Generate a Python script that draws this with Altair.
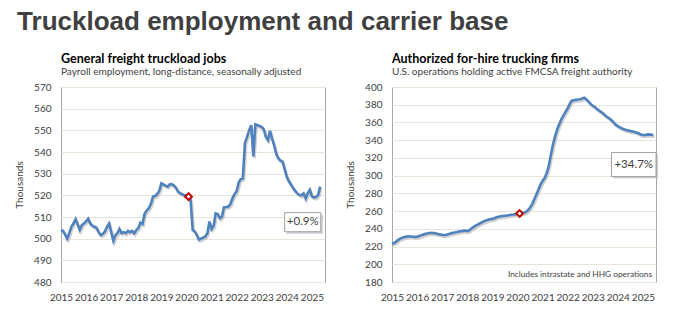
import altair as alt
import pandas as pd

# ---------------- data ----------------
start_month = "2015-01-01"

# General freight truckload jobs (thousands), monthly from Jan 2015
jobs = [
    504.0, 503.5, 502.0, 500.0, 502.5, 505.5, 507.0, 509.0, 506.5, 504.0, 506.3, 507.0,
    508.0, 509.2, 507.0, 506.0, 505.5, 505.0, 503.0, 501.7, 502.2, 503.3, 505.5, 507.0,
    503.0, 499.0, 501.5, 502.5, 504.5, 502.5, 503.0, 502.5, 503.6, 503.0, 503.6, 502.5,
    504.0, 505.0, 507.4, 506.8, 511.4, 513.0, 514.0, 516.0, 519.4, 519.7, 520.6, 522.0,
    525.5, 525.0, 524.5, 524.0, 525.0, 525.2, 524.5, 523.5, 521.7, 521.0, 520.5, 520.0,
    519.8, 519.4, 517.9, 504.0, 503.3, 501.7, 499.5, 500.0, 500.5, 501.0, 502.5, 507.9,
    504.5, 506.0, 511.7, 511.4, 509.4, 510.2, 514.5, 514.6, 514.8, 516.0, 518.6, 520.6,
    522.0, 526.0, 527.5, 527.8, 544.0, 547.0, 550.0, 552.4, 538.0, 552.8, 552.4, 552.0,
    551.5, 550.4, 547.0, 545.5, 549.8, 546.2, 543.0, 539.0, 537.0, 536.0, 535.5, 532.0,
    528.5, 526.5, 525.0, 523.5, 522.0, 521.0, 520.2, 520.0, 520.9, 518.5, 521.0, 522.5,
    519.4, 519.0, 519.2, 520.2, 524.0,
]

# Authorized for-hire trucking firms (thousands), monthly from Jan 2015
firms = [
    223.0, 224.0, 225.5, 227.5, 229.0, 230.0, 230.7, 231.2, 231.6, 231.3, 231.0, 230.9,
    231.0, 231.8, 232.6, 233.5, 234.3, 234.8, 235.2, 235.4, 235.2, 234.7, 234.2, 233.7,
    233.2, 232.8, 233.2, 234.0, 234.8, 235.4, 235.8, 236.3, 236.9, 237.3, 237.7, 238.0,
    237.4, 238.5, 240.3, 242.0, 243.5, 244.8, 246.0, 247.3, 248.6, 249.5, 250.2, 250.7,
    251.2, 252.0, 253.0, 253.5, 254.1, 254.4, 254.7, 255.0, 255.4, 255.8, 256.1, 256.6,
    257.0, 257.3, 257.6, 258.0, 259.0, 261.0, 263.7, 267.5, 273.0, 278.5, 284.0, 290.0,
    294.0, 297.5, 302.5, 311.0, 323.0, 335.0, 344.0, 352.0, 358.0, 363.5, 368.0, 372.0,
    376.0, 381.0, 384.5, 385.0, 385.5, 385.8, 386.2, 387.0, 388.0, 386.0, 383.5, 381.0,
    378.8, 377.5, 375.5, 373.5, 372.0, 370.0, 368.0, 366.0, 364.5, 362.5, 360.0, 357.5,
    355.8, 354.5, 353.2, 352.3, 351.5, 351.0, 350.4, 349.8, 349.2, 348.6, 347.6, 346.5,
    345.8, 345.9, 346.3, 346.5, 346.2, 345.8,
]

years = list(range(2015, 2026))
jobs_ticks = [480, 490, 500, 510, 520, 530, 540, 550, 560, 570]
firms_ticks = [180, 200, 220, 240, 260, 280, 300, 320, 340, 360, 380, 400]

marker_index = 61  # Feb 2020 (pre-pandemic reference)
jobs_change = "+0.9%"
firms_change = "+34.7%"

main_title = "Truckload employment and carrier base"
jobs_title = "General freight truckload jobs"
jobs_subtitle = "Payroll employment, long-distance, seasonally adjusted"
firms_title = "Authorized for-hire trucking firms"
firms_subtitle = "U.S. operations holding active FMCSA freight authority"
firms_note = "Includes intrastate and HHG operations"
y_title = "Thousands"

# ---------------- tables ----------------
jobs_df = pd.DataFrame({
    "date": pd.date_range(start_month, periods=len(jobs), freq="MS"),
    "value": jobs,
})
firms_df = pd.DataFrame({
    "date": pd.date_range(start_month, periods=len(firms), freq="MS"),
    "value": firms,
})

LINE = "#4f81bd"
TEXT = "#404040"
FONT = "Lato"

x_domain = [alt.DateTime(year=2015, month=1, date=1), alt.DateTime(year=2025, month=7, date=10)]
x_ticks = [alt.DateTime(year=y, month=1, date=1) for y in years]
x_domain_end_note = "2025-07-10"


def panel(df, title, subtitle, ydom, yticks, label, box, note=None):
    x_axis = alt.Axis(values=x_ticks, format="%Y", grid=False, title=None,
                      labelPadding=10, labelFlush=False, labelOverlap=False)
    y_axis = alt.Axis(values=yticks, title=y_title, labelPadding=10, titlePadding=9,
                      labelOverlap=False)
    xs = alt.Scale(domain=x_domain)
    ys = alt.Scale(domain=ydom, nice=False, zero=False)

    def X(f):
        return alt.X(f, type="temporal", scale=xs, axis=x_axis)

    def Y(f):
        return alt.Y(f, type="quantitative", scale=ys, axis=y_axis)

    base = alt.Chart(df).encode(x=X("date"), y=Y("value"))
    shadow = base.mark_line(color="#9a9a9a", strokeWidth=2.6, opacity=0.45,
                            xOffset=1.2, yOffset=1.8)
    line = base.mark_line(color=LINE, strokeWidth=2.6)
    mk = df.iloc[[marker_index]]
    marker = alt.Chart(mk).mark_point(shape="diamond", size=45, filled=True, fill="white",
                                      stroke="#c00000", strokeWidth=2, opacity=1).encode(
        x=X("date"), y=Y("value"))

    x0, x1, ytop, ybot = box
    bdf = pd.DataFrame({"x0": [x0], "x1": [x1], "yt": [ytop], "yb": [ybot], "label": [label]})
    bx = alt.Chart(bdf)
    bshadow = bx.mark_rect(fill="#b8b8b8", opacity=0.7, xOffset=2, x2Offset=2,
                           yOffset=2, y2Offset=2).encode(
        x=X("x0"), x2="x1:T", y=Y("yt"), y2="yb:Q")
    brect = bx.mark_rect(fill="white", stroke="#a0a0a0", strokeWidth=1).encode(
        x=X("x0"), x2="x1:T", y=Y("yt"), y2="yb:Q")
    btext = bx.transform_calculate(
        xm="(toDate(datum.x0) + toDate(datum.x1)) / 2", ym="(datum.yt + datum.yb) / 2"
    ).mark_text(font=FONT, fontSize=11.5, color=TEXT).encode(
        x=X("xm"), y=Y("ym"), text="label:N")

    layers = [shadow, line, marker, bshadow, brect, btext]
    if note is not None:
        ndf = pd.DataFrame({"note": [note], "date": [x_domain_end_note], "value": [ydom[0]]})
        layers.append(alt.Chart(ndf).mark_text(font=FONT, fontSize=8.3, color=TEXT, align="right",
                                               baseline="bottom", dx=-4, dy=-3).encode(
            x=X("date"), y=Y("value"), text="note:N"))
    return alt.layer(*layers).properties(
        width=264, height=195,
        title=alt.TitleParams(title, subtitle=subtitle, anchor="start", frame="group",
                              font=FONT, fontSize=12.5, fontWeight="bold", color="#000000",
                              subtitleFont=FONT, subtitleFontSize=10, subtitleColor=TEXT,
                              subtitlePadding=2, offset=5))


left = panel(jobs_df, jobs_title, jobs_subtitle, [480, 570], jobs_ticks, jobs_change,
             ("2023-12-01", "2025-05-10", 512.0, 503.2))
right = panel(firms_df, firms_title, firms_subtitle, [180, 400], firms_ticks, firms_change,
              ("2023-10-01", "2025-07-10", 326.0, 299.0), note=firms_note)

chart = alt.hconcat(left, right, spacing=17).properties(
    title=alt.TitleParams(main_title, anchor="start", font="Liberation Sans", fontSize=26,
                          fontWeight="bold", color=TEXT, offset=17, dx=3),
    padding={"left": 14, "top": 9, "right": 4, "bottom": 4},
).configure_view(stroke="#a6a6a6", strokeWidth=1).configure_axis(
    labelFont=FONT, labelFontSize=10, labelColor=TEXT, titleFont=FONT, titleFontSize=10,
    titleColor=TEXT, titleFontWeight="normal", domain=False, ticks=False,
    gridColor="#e9e4d9", gridWidth=1,
)

chart.save("out.html", embed_options={"renderer": "svg", "actions": False})
